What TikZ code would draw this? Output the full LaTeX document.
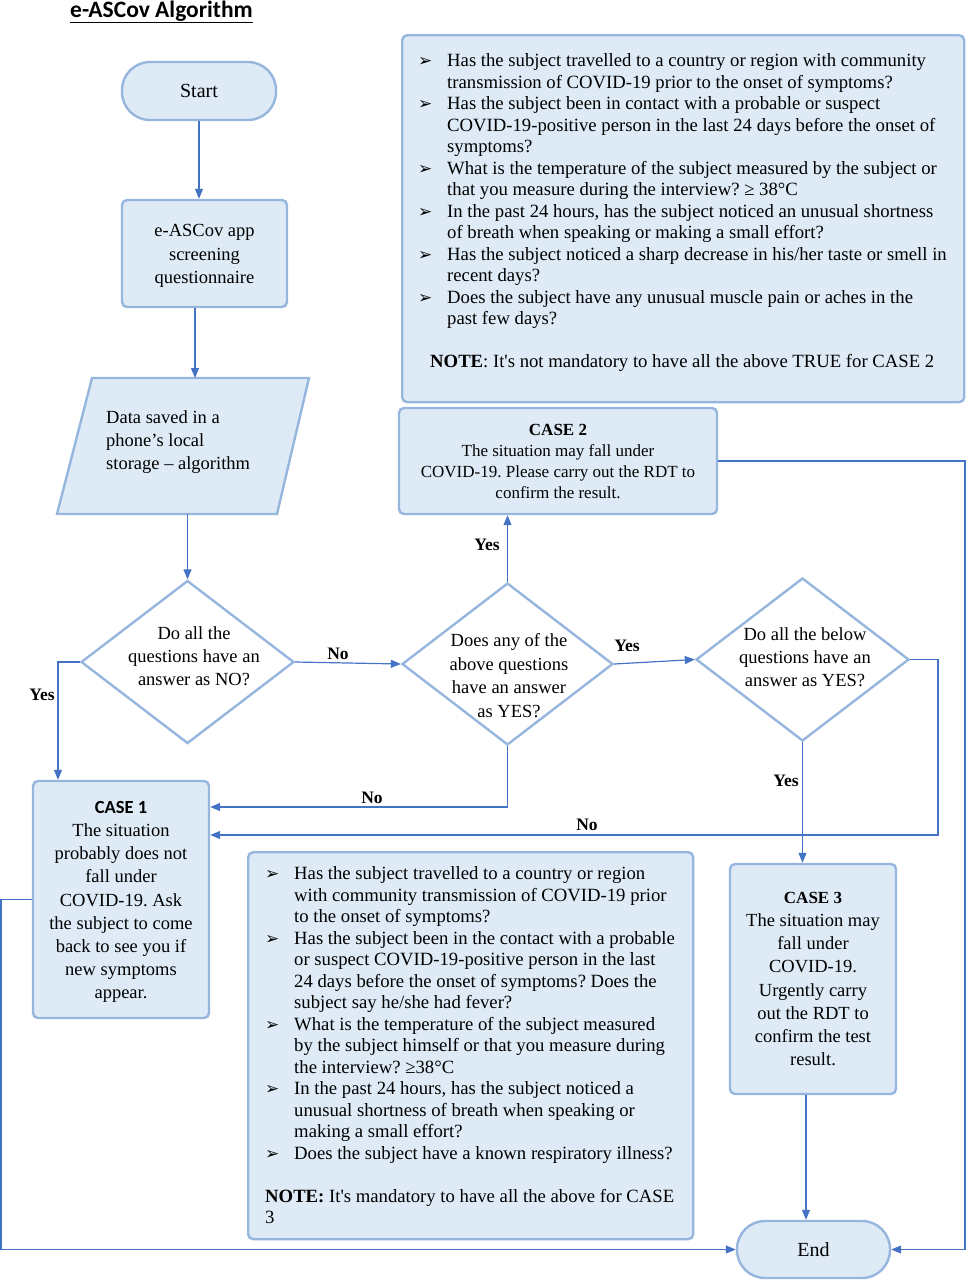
\documentclass[tikz,border=0pt]{standalone}
\usepackage{fontspec}
\setmainfont{Liberation Serif}
\newfontfamily\calibri{Carlito}
\newfontfamily\dejavu{DejaVu Sans}
\usetikzlibrary{arrows.meta,shapes.geometric,calc}
\definecolor{lineblue}{RGB}{68,114,196}
\definecolor{boxfill}{RGB}{222,235,247}
\definecolor{boxedge}{RGB}{150,182,222}
\newcommand{\bul}{\makebox[29pt][l]{\dejavu\fontsize{17}{17}\selectfont ➢}}
\newcommand{\ind}{\hspace*{29pt}}
\begin{document}
\frenchspacing
\begin{tikzpicture}[x=1pt,y=-1pt,
  box/.style={draw=boxedge, line width=2.4pt, fill=boxfill, rounded corners=5pt, inner sep=0pt},
  term/.style={draw=boxedge, line width=2.4pt, fill=boxfill, rounded corners=28pt, inner sep=0pt, font=\fontsize{20}{24}\selectfont},
  dia/.style={diamond, draw=boxedge, line width=2.4pt, fill=white, inner sep=0pt},
  arr/.style={draw=lineblue, line width=1.2pt, -{Triangle[length=10pt,width=8pt]}},
  lab/.style={font=\bfseries\fontsize{17.5}{20}\selectfont, inner sep=0pt},
  txt/.style={font=\fontsize{18.5}{23.2}\selectfont, align=center, inner sep=0pt},
  list/.style={font=\fontsize{18.7}{21.5}\selectfont, align=left, inner sep=0pt},
]
\useasboundingbox (0,0) rectangle (970,1280);

% title
\node[font=\calibri\bfseries\fontsize{23.5}{28}\selectfont, inner sep=0pt, anchor=base west] (title) at (70,17) {\underline{e-ASCov Algorithm}};

% start, app
\node[term, minimum width=154pt, minimum height=58pt] (start) at (199,91) {Start};
\node[box, minimum width=165pt, minimum height=107pt] (app) at (204.5,253.5) {};
\node[txt, font=\fontsize{18.5}{23.5}\selectfont] (apptxt) at (204.5,256) {e-ASCov app\\screening\\questionnaire};

% parallelogram
\draw[draw=boxedge, line width=2.4pt, fill=boxfill] (92,378) -- (309,378) -- (277,514) -- (57,514) -- cycle;
\coordinate (parin) at (195,378);
\coordinate (parout) at (187.5,514);
\node[txt, align=left, anchor=west] (partxt) at (106,442) {Data saved in a\\phone's local\\storage -- algorithm};

% diamonds
\node[dia, minimum width=213pt, minimum height=163pt] (d1) at (187.5,662) {};
\node[txt] (d1t) at (194,656) {Do all the\\questions have an\\answer as NO?};
\node[dia, minimum width=211pt, minimum height=162pt] (d2) at (507.5,664) {};
\node[txt, font=\fontsize{18.5}{23.7}\selectfont] (d2t) at (509,675.5) {Does any of the\\above questions\\have an answer\\as YES?};
\node[dia, minimum width=213pt, minimum height=163pt] (d3) at (802.5,659.5) {};
\node[txt] (d3t) at (805,657.5) {Do all the below\\questions have an\\answer as YES?};

% cases
\node[box, minimum width=176pt, minimum height=237pt] (case1) at (121,899.5) {};
\node[txt] (case1txt) at (121,902) {{\calibri\bfseries CASE 1}\\The situation\\probably does not\\fall under\\COVID-19. Ask\\the subject to come\\back to see you if\\new symptoms\\appear.};
\node[box, minimum width=318pt, minimum height=106pt, txt, font=\fontsize{17}{21}\selectfont] (case2) at (558,461) {\textbf{CASE 2}\\The situation may fall under\\COVID-19. Please carry out the RDT to\\confirm the result.};
\node[box, minimum width=166pt, minimum height=230pt, txt] (case3) at (813,979) {{\fontsize{17}{21}\selectfont\bfseries CASE 3}\\The situation may\\fall under\\COVID-19.\\Urgently carry\\out the RDT to\\confirm the test\\result.};
\node[term, minimum width=153pt, minimum height=57pt] (end) at (813.5,1249.5) {End};

% question boxes
\node[box, minimum width=562pt, minimum height=367pt, anchor=north west] (qbox1) at (401,34) {};
\node[list, anchor=north west] (q1) at (418,53.5) {%
\bul Has the subject travelled to a country or region with community\\
\ind transmission of COVID-19 prior to the onset of symptoms?\\
\bul Has the subject been in contact with a probable or suspect\\
\ind COVID-19-positive person in the last 24 days before the onset of\\
\ind symptoms?\\
\bul What is the temperature of the subject measured by the subject or\\
\ind that you measure during the interview? ≥ 38°C\\
\bul In the past 24 hours, has the subject noticed an unusual shortness\\
\ind of breath when speaking or making a small effort?\\
\bul Has the subject noticed a sharp decrease in his/her taste or smell in\\
\ind recent days?\\
\bul Does the subject have any unusual muscle pain or aches in the\\
\ind past few days?\\[21.5pt]
\hspace*{12pt}\textbf{NOTE}: It\textquotesingle s not mandatory to have all the above TRUE for CASE 2};

\node[box, minimum width=445pt, minimum height=387pt, anchor=north west] (qbox2) at (247,851) {};
\node[list, anchor=north west] (q2) at (265,866.5) {%
\bul Has the subject travelled to a country or region\\
\ind with community transmission of COVID-19 prior\\
\ind to the onset of symptoms?\\
\bul Has the subject been in the contact with a probable\\
\ind or suspect COVID-19-positive person in the last\\
\ind 24 days before the onset of symptoms? Does the\\
\ind subject say he/she had fever?\\
\bul What is the temperature of the subject measured\\
\ind by the subject himself or that you measure during\\
\ind the interview? ≥38°C\\
\bul In the past 24 hours, has the subject noticed a\\
\ind unusual shortness of breath when speaking or\\
\ind making a small effort?\\
\bul Does the subject have a known respiratory illness?\\[21.5pt]
\textbf{NOTE:} It\textquotesingle s mandatory to have all the above for CASE\\
3};

% connectors
\draw[arr] (start.south) -- (start.south |- app.north);
\draw[arr] (app.south -| parin) -- (parin);
\draw[arr] (parout) -- (d1.north);
\draw[arr] (d1.west) -| ([xshift=-63pt]case1.north);
\draw[arr] (d1.east) -- (d2.west);
\draw[arr] (d2.north) -- (d2.north |- case2.south);
\draw[arr] (d2.east) -- (d3.west);
\draw[arr] (d3.south) -- (d3.south |- case3.north);
\path (case1.east) ++(0,-92.5) coordinate (c1a);
\path (case1.east) ++(0,-64.5) coordinate (c1b);
\draw[arr] (d2.south) |- (c1a);
\coordinate (rt) at (938,835);
\draw[arr] (d3.east) -| (rt) -- (c1b);
\coordinate (lb) at (1,1249.5);
\draw[arr] (case1.west) -| (lb) -- (end.west);
\coordinate (rb) at (965,1249.5);
\draw[arr] (case2.east) -| (rb) -- (end.east);
\draw[arr] ([xshift=-7pt]case3.south) -- ([xshift=-7.5pt]end.north);

% labels
\node[lab] (y1) at (42,695) {Yes};
\node[lab] (n1) at (338,654) {No};
\node[lab] (y2) at (487,545) {Yes};
\node[lab] (y3) at (627,646) {Yes};
\node[lab] (n2) at (372,798) {No};
\node[lab] (n3) at (587,825) {No};
\node[lab] (y4) at (786,781) {Yes};
\end{tikzpicture}
\end{document}
